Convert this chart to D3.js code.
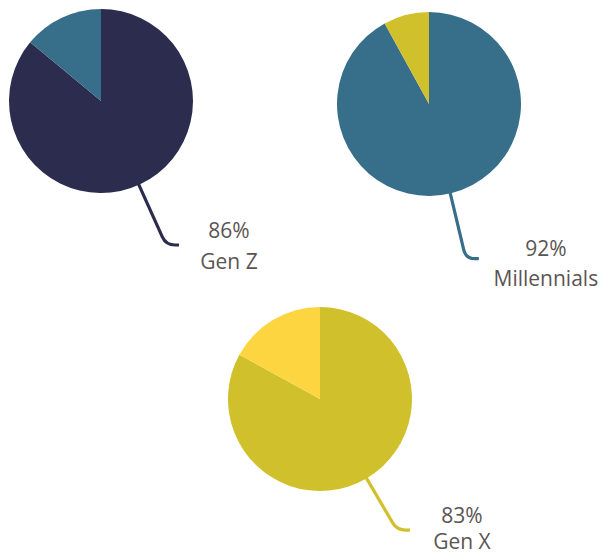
<!DOCTYPE html>
<html>
<head>
<meta charset="utf-8">
<script src="https://cdn.jsdelivr.net/npm/d3@7"></script>
<style>
  html, body { margin: 0; padding: 0; background: #fff; }
  svg text { font-family: "Open Sans", "Noto Sans", sans-serif; }
</style>
</head>
<body>
<svg id="chart" width="601" height="553"></svg>
<script>
// data
const generations = ["Gen Z", "Millennials", "Gen X"];
const shares = [86, 92, 83];
const mainColors = ["#2c2c4e", "#376e8a", "#d0c12c"];
const restColors = ["#376e8a", "#d0c12c", "#fdd540"];

// layout for each pie (centre, leader angle + length, label offset)
const layout = [
  { cx: 101, cy: 101, angle: 155.7, len: 158, lx: 50, ly: [-7, 24] },
  { cx: 429, cy: 104, angle: 166.6, len: 159, lx: 67, ly: [-3, 27] },
  { cx: 320, cy: 399, angle: 149.6, len: 152, lx: 52, ly: [-7, 19] }
];

const radius = 92;

const svg = d3.select("#chart");

const pie = d3.pie().sort(null).value(d => d);
const arc = d3.arc().innerRadius(0).outerRadius(radius);

generations.forEach(function(name, i) {
  const pos = layout[i];
  const g = svg.append("g")
    .attr("transform", "translate(" + pos.cx + "," + pos.cy + ")");

  const slices = pie([shares[i], 100 - shares[i]]);

  // leader line first, so the pie sits over its start
  const a = pos.angle * Math.PI / 180;
  const dx = Math.sin(a), dy = -Math.cos(a);
  const r0 = radius - 4, k = 9;
  const px = dx * pos.len, py = dy * pos.len;
  const p = d3.path();
  p.moveTo(dx * r0, dy * r0);
  p.lineTo(px - dx * k, py - dy * k);
  p.quadraticCurveTo(px, py, px + k, py);
  p.lineTo(px + 13, py);

  g.append("path")
    .attr("d", p.toString())
    .attr("fill", "none")
    .attr("stroke", mainColors[i])
    .attr("stroke-width", 3.2)
    .attr("stroke-linecap", "butt");

  g.selectAll(".slice")
    .data(slices)
    .enter()
    .append("path")
    .attr("class", "slice")
    .attr("d", arc)
    .attr("fill", (d, j) => j === 0 ? mainColors[i] : restColors[i]);

  const tx = px + 13 + pos.lx;
  const label = g.append("text")
    .attr("text-anchor", "middle")
    .style("font-size", "21px")
    .attr("fill", "#5b5454");

  label.append("tspan")
    .attr("x", tx)
    .attr("y", py + pos.ly[0])
    .text(shares[i] + "%");

  label.append("tspan")
    .attr("x", tx)
    .attr("y", py + pos.ly[1])
    .text(name);
});
</script>
</body>
</html>
